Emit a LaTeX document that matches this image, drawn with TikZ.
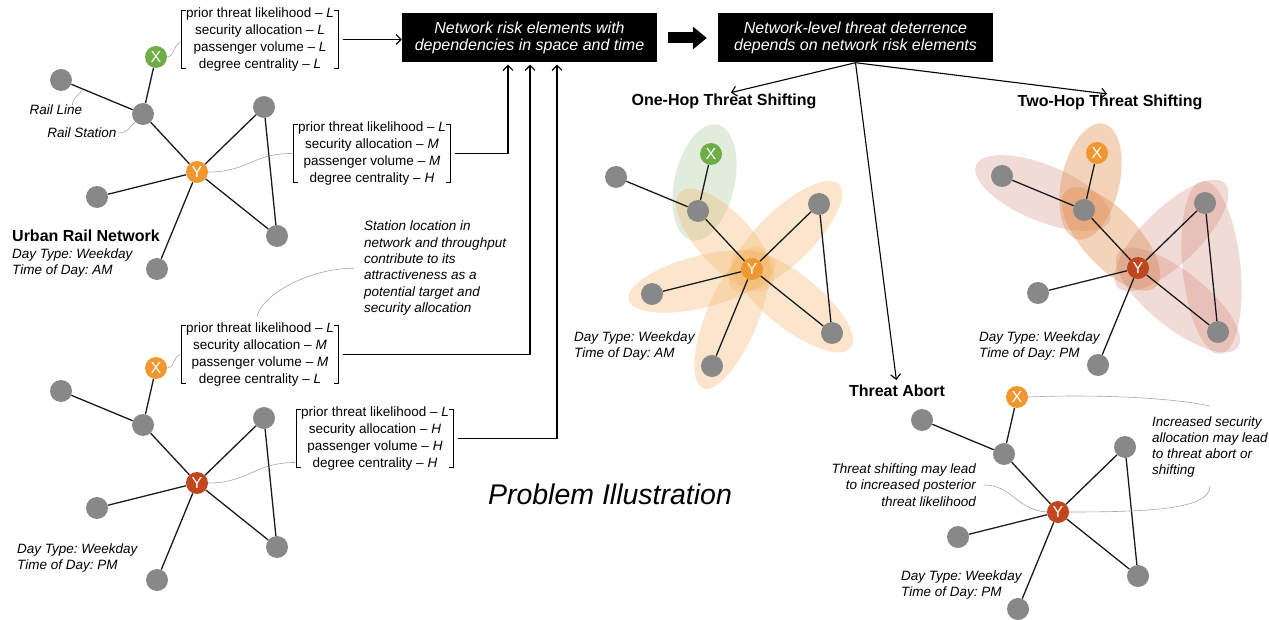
\documentclass[tikz,border=0pt]{standalone}
\usepackage{fontspec}
\setmainfont{Liberation Sans}
\frenchspacing
\usetikzlibrary{arrows.meta,calc,shapes.geometric}
\pgfdeclarelayer{blobs}
\pgfdeclarelayer{edges}
\pgfsetlayers{blobs,edges,main}

\definecolor{stngray}{HTML}{888888}
\definecolor{hubgreen}{HTML}{70AD47}
\definecolor{hubor}{HTML}{F0972F}
\definecolor{hubred}{HTML}{C0461F}
\definecolor{blobor}{HTML}{F2B468}
\definecolor{blobgr}{HTML}{9DC08B}
\definecolor{blobpk}{HTML}{CC7A66}
\definecolor{blobdk}{HTML}{E29050}

\tikzset{
  stn/.style={circle, fill=stngray, minimum size=22pt, inner sep=0pt},
  hub/.style={circle, minimum size=22pt, inner sep=0pt, text=white,
    font=\fontsize{16}{16}\selectfont},
  rail/.style={line width=1.3pt, black!90},
  arr/.style={line width=1.1pt, -{Straight Barb[length=5pt,width=10pt]}},
  callout/.style={draw=black!35, line width=0.6pt},
  brk/.style={line width=0.9pt},
  facts/.style={align=center, inner xsep=4pt, inner ysep=0pt,
    font=\fontsize{13.5}{17}\selectfont},
  note/.style={inner sep=0pt, font=\fontsize{13.5}{16.3}\selectfont\itshape},
  meta/.style={inner sep=0pt, anchor=west, align=left,
    font=\fontsize{13.5}{16.5}\selectfont\itshape},
  ttl/.style={inner sep=0pt, font=\fontsize{16}{18}\selectfont\bfseries},
  riskbox/.style={fill=black, text=white, align=center, inner sep=0pt,
    minimum height=49pt, font=\fontsize{16}{17.5}\selectfont\itshape},
  blobshape/.style={ellipse, inner sep=0pt, draw=none},
  orblob/.style={fill=blobor, fill opacity=0.33},
  grblob/.style={fill=blobgr, fill opacity=0.30},
  pkblob/.style={fill=blobpk, fill opacity=0.27},
  dkblob/.style={fill=blobdk, fill opacity=0.40},
}

% one rail network: prefix, position of Y, fill of X, fill of Y
\newcommand\railnet[4]{%
  \begin{scope}[shift={#2}]
    \node[stn] (#1tl) at (-136,-92) {};
    \node[stn] (#1st) at (-54,-58) {};
    \node[stn] (#1tr) at (67,-65) {};
    \node[stn] (#1br) at (80,64) {};
    \node[stn] (#1l)  at (-100,25) {};
    \node[stn] (#1b)  at (-40,97) {};
    \node[hub, fill=#3] (#1X) at (-41,-115) {X};
    \node[hub, fill=#4] (#1Y) at (0,0) {Y};
  \end{scope}
  \begin{pgfonlayer}{edges}
    \draw[rail] (#1tl) -- (#1st) -- (#1X);
    \draw[rail] (#1st) -- (#1Y) -- (#1tr) -- (#1br) -- (#1Y);
    \draw[rail] (#1Y) -- (#1l);
    \draw[rail] (#1Y) -- (#1b);
  \end{pgfonlayer}}

% shaded ellipse along the segment between two stations
\newcommand\riskblob[5]{%
  \path let \p1=($(#2)-(#1)$), \n1={atan2(\y1,\x1)},
    \n2={veclen(\x1,\y1)+2*#3} in
    ($(#1)!0.5!(#2)$) node[blobshape, #5, minimum width=\n2,
      minimum height=2*#4, rotate=\n1] {};}

% square brackets round a list of risk factors
\newcommand\factbrackets[1]{%
  \draw[brk] ([shift={(4,3)}]#1.north west) -- ([shift={(0,3)}]#1.north west)
    -- ([shift={(0,-3)}]#1.south west) -- ([shift={(4,-3)}]#1.south west);
  \draw[brk] ([shift={(-4,3)}]#1.north east) -- ([shift={(0,3)}]#1.north east)
    -- ([shift={(0,-3)}]#1.south east) -- ([shift={(-4,-3)}]#1.south east);}

\begin{document}
\begin{tikzpicture}[x=1pt, y=-1pt]
\useasboundingbox (0,0) rectangle (1269,620);

% ---------- header boxes ----------
\node[riskbox, minimum width=255pt] (risk) at (529.5,38)
  {Network risk elements with\\dependencies in space and time};
\node[riskbox, minimum width=275pt] (deter) at (855.5,38)
  {Network-level threat deterrence\\depends on network risk elements};
\draw[line width=11pt, -{Triangle[length=14pt,width=22pt]}]
  ([xshift=11pt]risk.east) -- ([xshift=-11pt]deter.west);

% ---------- left column: AM network ----------
\railnet{a}{(197,172)}{hubgreen}{hubor}
\node[note] (rl) at (56,110) {Rail Line};
\node[note] (rs) at (82,133) {Rail Station};
\draw[callout] ([xshift=-10pt]rl.north east) .. controls +(0,-8) and +(-2,6) .. ($(atl)!0.26!(ast)$);
\draw[callout] ([xshift=1pt]rs.east) .. controls +(10,0) and +(-6,6) .. (ast.south west);
\node[ttl, anchor=west] (urban) at (12,236) {Urban Rail Network};
\node[meta] (ma) at (12,263) {Day Type: Weekday\\Time of Day: AM};

\node[facts] (fa) at (260,39.5)
  {prior threat likelihood – \textit{L}\\security allocation – \textit{L}\\passenger volume – \textit{L}\\degree centrality – \textit{L}};
\factbrackets{fa}
\node[facts] (fb) at (372,153.5)
  {prior threat likelihood – \textit{L}\\security allocation – \textit{M}\\passenger volume – \textit{M}\\degree centrality – \textit{H}};
\factbrackets{fb}
\draw[callout] (aX.east) .. controls +(8,-1) and +(-7,3) .. ([shift={(-2,3)}]fa.west);
\draw[callout] (aY.east) .. controls +(40,0) and +(-40,0) .. ([xshift=-2pt]fb.west);

% ---------- left column: PM network ----------
\railnet{p}{(197,483)}{hubor}{hubred}
\node[meta] (mp) at (17,558) {Day Type: Weekday\\Time of Day: PM};
\node[facts] (fc) at (260,354.5)
  {prior threat likelihood – \textit{L}\\security allocation – \textit{M}\\passenger volume – \textit{M}\\degree centrality – \textit{L}};
\factbrackets{fc}
\node[facts] (fd) at (375,438.5)
  {prior threat likelihood – \textit{L}\\security allocation – \textit{H}\\passenger volume – \textit{H}\\degree centrality – \textit{H}};
\factbrackets{fd}
\draw[callout] (pX.east) .. controls +(8,-1) and +(-7,3) .. ([xshift=-2pt]fc.west);
\draw[callout] (pY.east) .. controls +(40,0) and +(-40,0) .. ([shift={(-2,-8)}]fd.south west);

\node[note, anchor=north west, align=left] (station) at (364,221)
  {Station location in\\network and throughput\\contribute to its\\attractiveness as a\\potential target and\\security allocation};
\draw[callout] ([xshift=-10pt]station.west) .. controls +(-45,0) and +(5,-22) .. ([shift={(-3,-6)}]fc.north);

% ---------- factor lists feed the header box ----------
\draw[arr] ([xshift=5pt]fa.east) -- (risk.west |- fa.east);
\draw[arr, shorten >=2pt] ([xshift=5pt]fb.east) -| ([xshift=-21.5pt]risk.south);
\draw[arr, shorten >=2pt] ([xshift=5pt]fc.east) -| ([xshift=0.5pt]risk.south);
\draw[arr, shorten >=2pt] ([xshift=5pt]fd.east) -| ([xshift=27.5pt]risk.south);

\node[font=\fontsize{28.5}{34}\selectfont\itshape] (prob) at (610,494) {Problem Illustration};

% ---------- one-hop threat shifting ----------
\node[ttl] (onehop) at (724,101) {One-Hop Threat Shifting};
\railnet{c}{(752,269)}{hubgreen}{hubor}
\node[meta] (mc) at (574,346) {Day Type: Weekday\\Time of Day: AM};

% ---------- two-hop threat shifting ----------
\node[ttl] (twohop) at (1110,102) {Two-Hop Threat Shifting};
\railnet{d}{(1138,268)}{hubor}{hubred}
\node[meta] (md) at (979,346) {Day Type: Weekday\\Time of Day: PM};

% ---------- threat abort ----------
\node[ttl] (abort) at (897,391) {Threat Abort};
\railnet{e}{(1058,512)}{hubor}{hubred}
\node[meta] (me) at (901,585) {Day Type: Weekday\\Time of Day: PM};
\node[note, align=right, anchor=east] (lnote) at (976,485)
  {Threat shifting may lead\\to increased posterior\\threat likelihood};
\node[note, align=left, anchor=west] (rnote) at (1152,447)
  {Increased security\\allocation may lead\\to threat abort or\\shifting};
\begin{pgfonlayer}{edges}
\draw[callout] (eX.east) .. controls +(70,-3) and +(-35,-8) .. ([shift={(0,-10)}]rnote.north);
\draw[callout] ([xshift=8pt]lnote.east) .. controls +(28,0) and +(-30,-2) .. (eY.west);
\draw[callout] (eY.east) .. controls +(90,0) and +(0,22) .. ([shift={(0,8)}]rnote.south);
\end{pgfonlayer}

% ---------- deterrence outcomes ----------
\draw[arr, shorten >=3pt] (deter.south) -- ([xshift=4pt]onehop.north);
\draw[arr, shorten >=3pt] (deter.south) -- (twohop.north);
\draw[arr, shorten >=5pt] (deter.south) -- (abort.north);

% ---------- shaded risk regions ----------
\begin{pgfonlayer}{blobs}
\riskblob{cX}{cst}{30}{30}{grblob}
\riskblob{cY}{cst}{26}{27}{orblob}
\riskblob{cY}{ctr}{28}{27}{orblob}
\riskblob{cY}{cbr}{24}{27}{orblob}
\riskblob{cY}{cl}{24}{26}{orblob}
\riskblob{cY}{cb}{24}{26}{orblob}
\riskblob{dtl}{dst}{28}{28}{pkblob}
\riskblob{dX}{dst}{30}{29}{dkblob}
\riskblob{dst}{dY}{26}{28}{dkblob}
\riskblob{dY}{dtr}{28}{28}{pkblob}
\riskblob{dY}{dbr}{25}{28}{pkblob}
\riskblob{dtr}{dbr}{22}{29}{pkblob}
\end{pgfonlayer}
\end{tikzpicture}
\end{document}
